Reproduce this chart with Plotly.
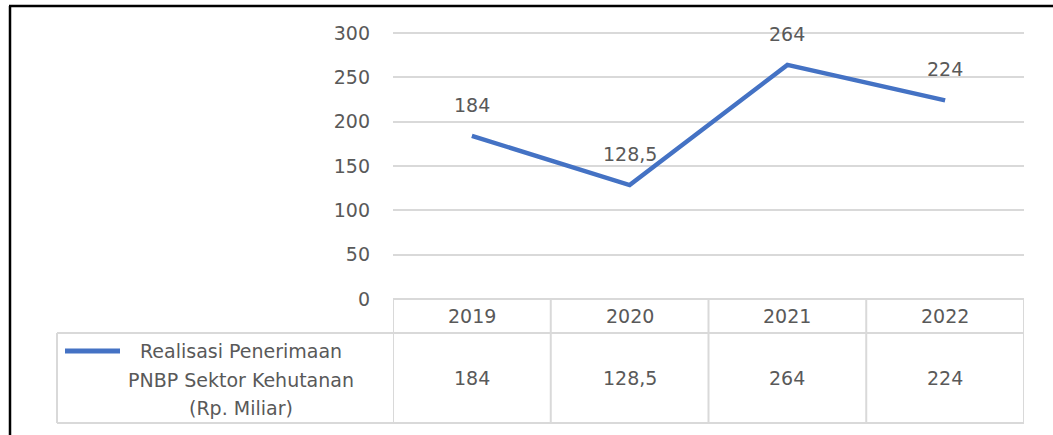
import plotly.graph_objects as go

# Data
years = ["2019", "2020", "2021", "2022"]
values = [184, 128.5, 264, 224]
series_name = ["Realisasi Penerimaan", "PNBP Sektor Kehutanan", "(Rp. Miliar)"]
y_ticks = [0, 50, 100, 150, 200, 250, 300]

W, H = 1053, 435
FONT = "DejaVu Sans"
TXT = "#595959"
GRID = "#d9d9d9"
BLUE = "#4472C4"


def px(x):
    return x / W


def py(y):
    return 1 - y / H


def fmt(v):
    s = f"{v:g}"
    return s.replace(".", ",")


# Layout geometry (pixels); y range runs a little past 300 so its gridline is drawn
y_max = 305
plot_left, plot_right = 393, 1024
plot_bottom = 299
plot_top = plot_bottom - (plot_bottom - 33) * y_max / 300
head_bottom, table_bottom = 333, 423
table_left = 57

fig = go.Figure()
fig.add_trace(go.Scatter(
    x=list(range(len(years))), y=values, mode="lines",
    line=dict(color=BLUE, width=4.5),
    showlegend=False, hoverinfo="skip",
))

font = dict(family=FONT, size=19, color=TXT)
annotations = []
for i, (yr, v) in enumerate(zip(years, values)):
    # value label above the point
    annotations.append(dict(x=i, y=v, xref="x", yref="y", text=fmt(v),
                            showarrow=False, yshift=31, font=font))
    # table header (year) and table value
    annotations.append(dict(x=i, y=py((plot_bottom + head_bottom) / 2), xref="x", yref="paper",
                            text=yr, showarrow=False, yanchor="middle", font=font))
    annotations.append(dict(x=i, y=py((head_bottom + table_bottom) / 2), xref="x", yref="paper",
                            text=fmt(v), showarrow=False, yanchor="middle", font=font))
# Series name in the table, one line per annotation
for line_text, ly in zip(series_name, [351, 380, 408]):
    annotations.append(dict(
        x=px(241), y=py(ly), xref="paper", yref="paper", text=line_text,
        showarrow=False, xanchor="center", yanchor="middle", font=font,
    ))

shapes = []
gl = dict(color=GRID, width=2)
shapes.append(dict(type="line", xref="paper", yref="paper",
                   x0=px(plot_left), x1=px(plot_right), y0=py(plot_bottom), y1=py(plot_bottom), line=gl))
shapes.append(dict(type="line", xref="paper", yref="paper",
                   x0=px(table_left), x1=px(plot_right), y0=py(head_bottom), y1=py(head_bottom), line=gl))
shapes.append(dict(type="line", xref="paper", yref="paper",
                   x0=px(table_left), x1=px(plot_right), y0=py(table_bottom), y1=py(table_bottom), line=gl))
for i in range(len(years) + 1):
    shapes.append(dict(type="line", xref="x", yref="paper",
                       x0=i - 0.5, x1=i - 0.5, y0=py(plot_bottom), y1=py(table_bottom), line=gl))
shapes.append(dict(type="line", xref="paper", yref="paper",
                   x0=px(table_left), x1=px(table_left), y0=py(head_bottom), y1=py(table_bottom), line=gl))
# Legend key line
shapes.append(dict(type="line", xref="paper", yref="paper",
                   x0=px(65), x1=px(120), y0=py(351), y1=py(351),
                   line=dict(color=BLUE, width=5)))
# Outer frame (top and left edges)
shapes.append(dict(type="line", xref="paper", yref="paper",
                   x0=px(9), x1=1, y0=py(6), y1=py(6), line=dict(color="black", width=2.5)))
shapes.append(dict(type="line", xref="paper", yref="paper",
                   x0=px(10), x1=px(10), y0=py(6), y1=0, line=dict(color="black", width=2.5)))

fig.update_layout(
    template="none",
    width=W, height=H,
    margin=dict(l=0, r=0, t=0, b=0, autoexpand=False),
    paper_bgcolor="white", plot_bgcolor="white",
    showlegend=False,
    xaxis=dict(
        domain=[px(plot_left), px(plot_right)],
        range=[-0.5, len(years) - 0.5], automargin=False,
        showticklabels=False, showgrid=False, zeroline=False, showline=False, ticks="",
    ),
    yaxis=dict(
        domain=[py(plot_bottom), py(plot_top)],
        range=[0, y_max], tickvals=y_ticks, automargin=False,
        showgrid=True, gridcolor=GRID, gridwidth=2,
        zeroline=False, showline=False, ticks="",
        ticklabelstandoff=22,
        tickfont=font,
    ),
    annotations=annotations,
    shapes=shapes,
)

fig.write_html("out.html")
